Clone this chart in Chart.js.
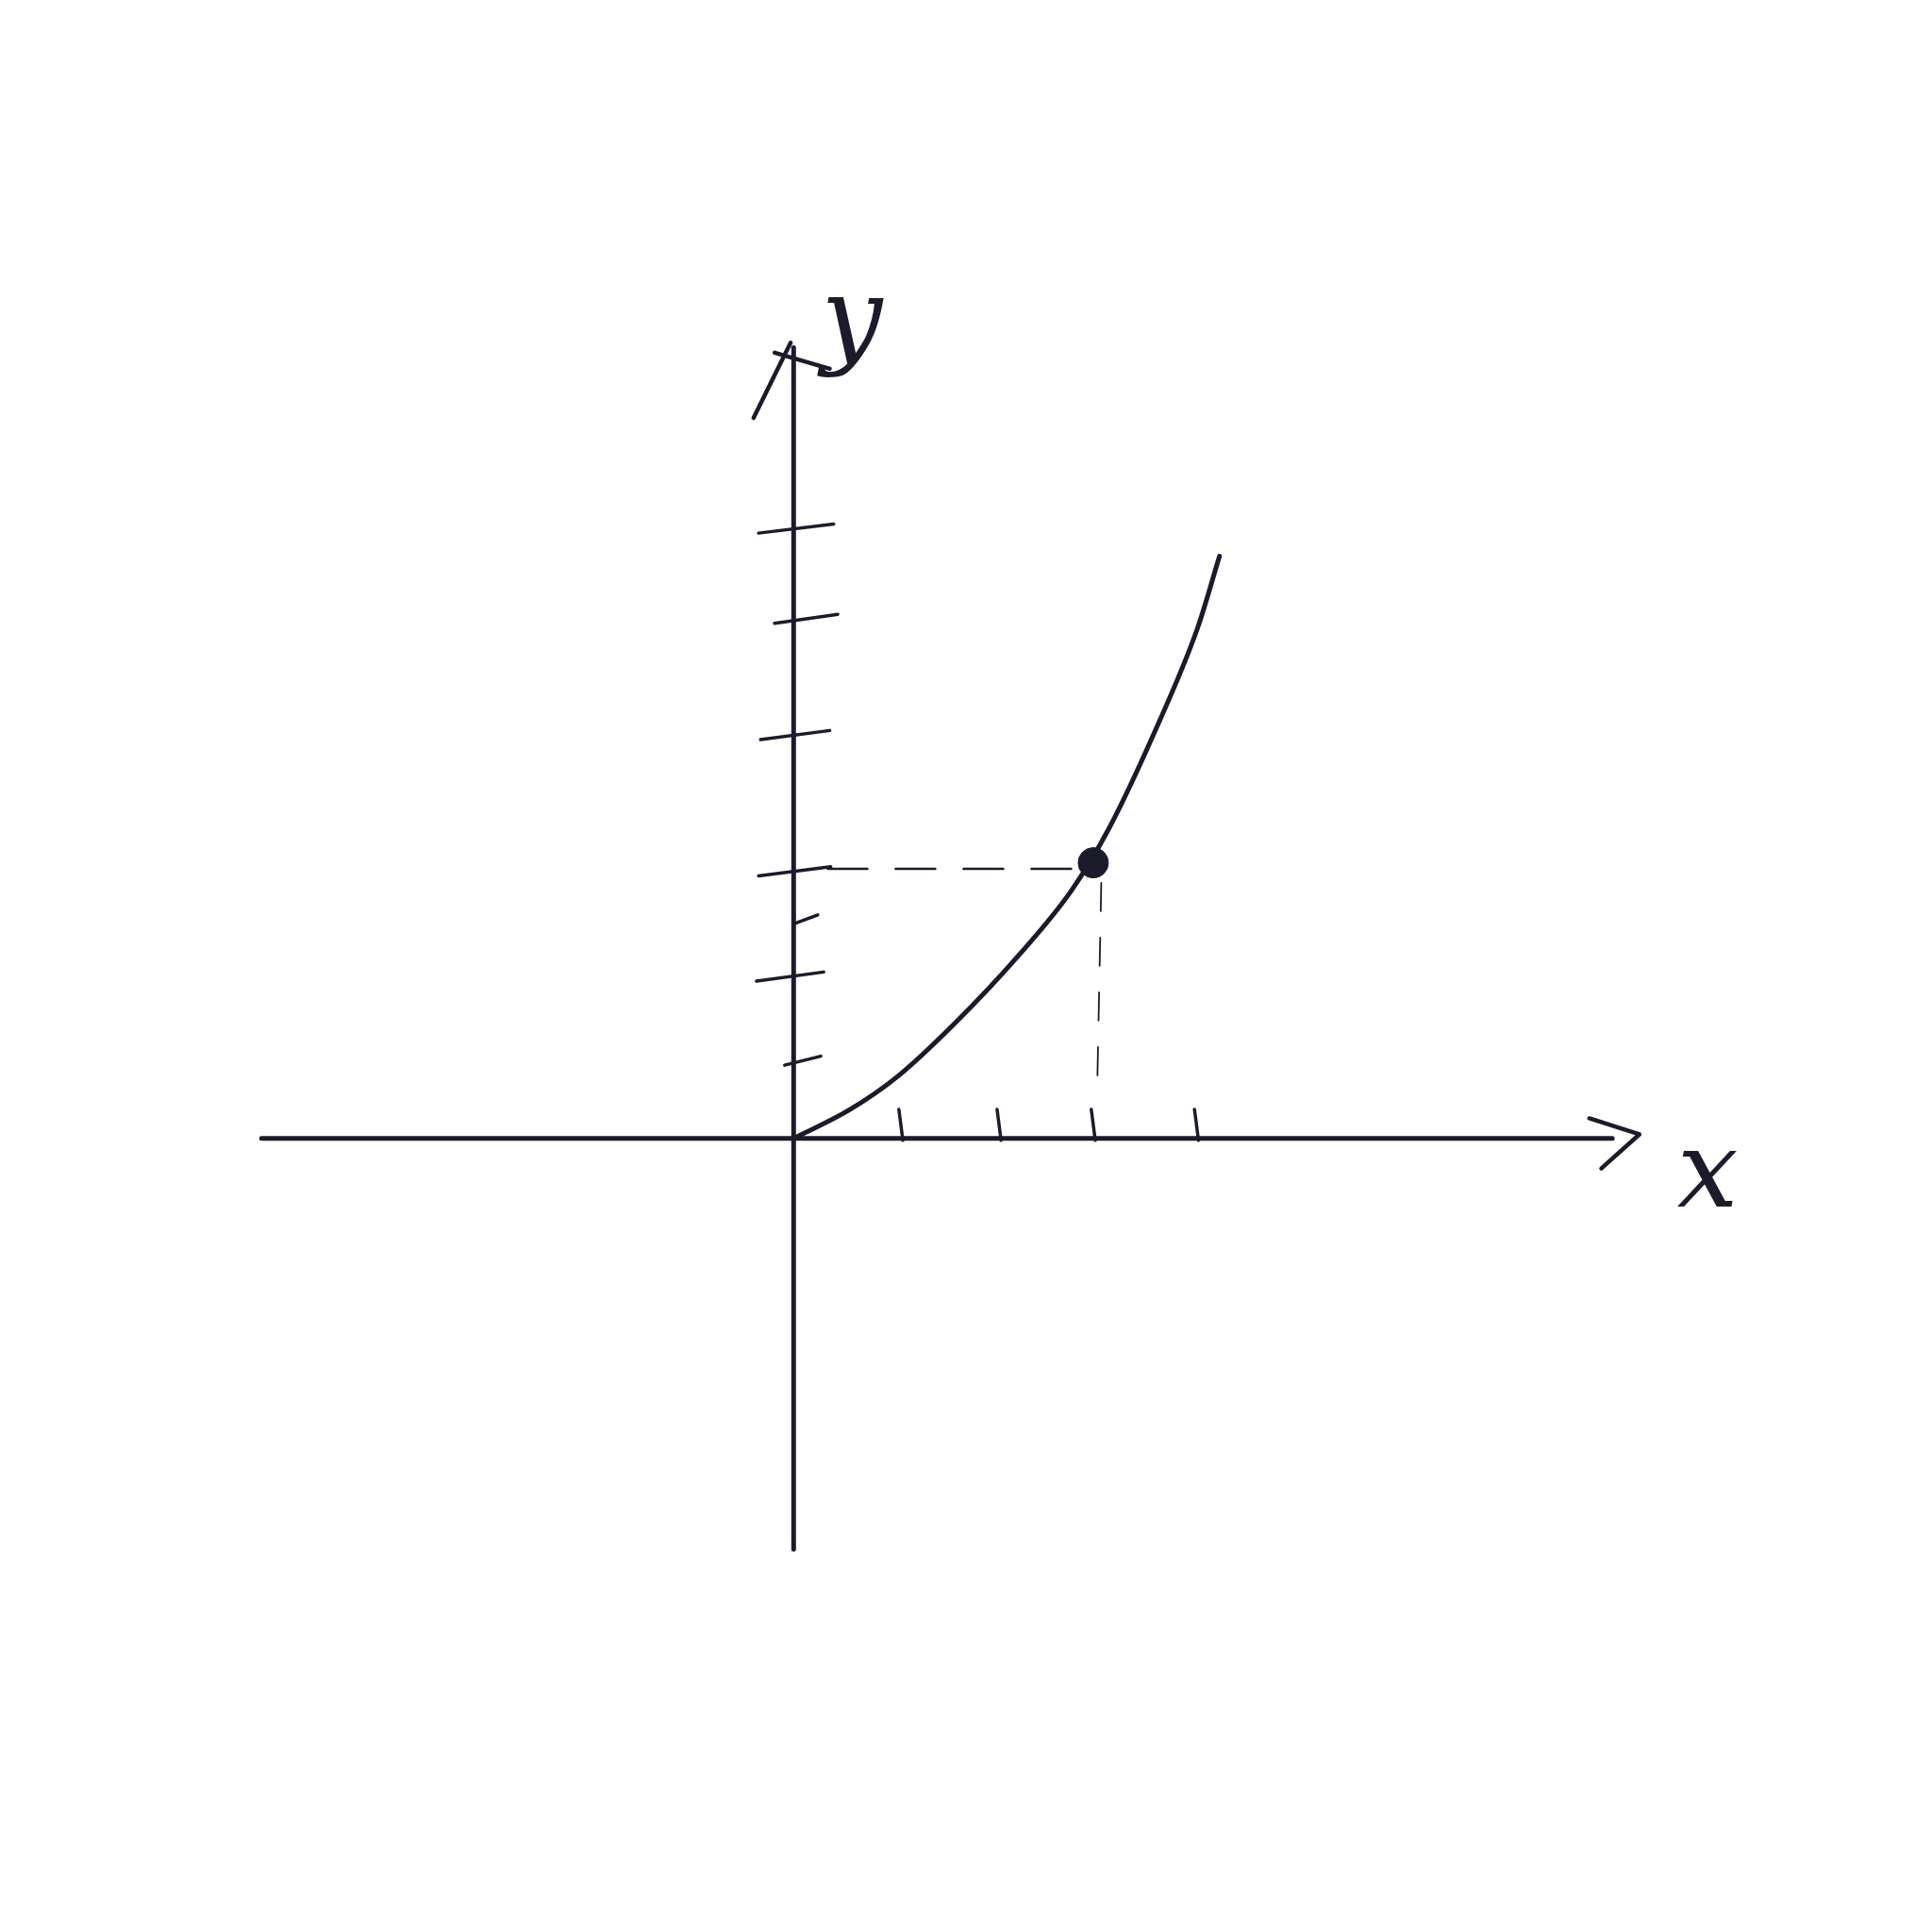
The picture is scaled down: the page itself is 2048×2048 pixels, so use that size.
<!DOCTYPE html>
<html lang="en">
  <head>
    <meta charset="UTF-8" />
    <title>Sketch: curve through a marked point</title>
    <script src="https://cdn.jsdelivr.net/npm/chart.js"></script>
    <style>
      html, body { margin: 0; padding: 0; background: #fff; }
    </style>
  </head>
  <body>
    <canvas id="sketch" width="2048" height="2048"></canvas>

    <script>
      // values, in "tick" units (origin = where axes cross)
      var curveX = [0, 0.55, 1.04, 1.62, 2.24, 2.77, 3.14, 3.6, 4.03, 4.25];
      var curveY = [0, 0.28, 0.62, 1.16, 1.82, 2.47, 3.08, 4.05, 5.09, 5.81];

      // the marked point
      var markX = [2.99];
      var markY = [2.75];

      // tick marks on the axes
      var xTicks = [1.08, 2.06, 3.0, 4.03];
      var yTicks = [6.08, 5.18, 4.02, 2.66, 2.18, 1.61, 0.77];
      // how far each y tick reaches left / right of the axis
      var yTickLeft = [0.35, 0.19, 0.33, 0.35, 0, 0.37, 0.09];
      var yTickRight = [0.4, 0.44, 0.36, 0.37, 0.24, 0.3, 0.27];

      // how long the drawn axes are
      var xAxisRange = [-5.31, 8.17];
      var yAxisRange = [-4.1, 7.89];

      var ink = "#1c1b2b";

      function pts(xs, ys) {
        return xs.map(function (x, i) {
          return { x: x, y: ys[i] };
        });
      }

      function stroke(data, width, dash) {
        return {
          data: data,
          showLine: true,
          borderColor: ink,
          borderWidth: width,
          borderDash: dash || [],
          borderCapStyle: "round",
          borderJoinStyle: "round",
          pointRadius: 0,
          fill: false,
        };
      }

      var datasets = [];

      // axes
      datasets.push(stroke([{ x: xAxisRange[0], y: 0 }, { x: xAxisRange[1], y: 0 }], 5));
      datasets.push(stroke([{ x: 0, y: yAxisRange[0] }, { x: 0, y: yAxisRange[1] }], 5));

      // arrow heads
      var xe = xAxisRange[1];
      datasets.push(stroke([{ x: xe - 0.23, y: 0.2 }, { x: xe + 0.27, y: 0.04 }, { x: xe - 0.11, y: -0.3 }], 4.5));
      var ye = yAxisRange[1];
      datasets.push(stroke([{ x: -0.4, y: ye - 0.7 }, { x: -0.03, y: ye + 0.05 }], 4.5));
      datasets.push(stroke([{ x: -0.19, y: ye - 0.05 }, { x: 0.36, y: ye - 0.21 }], 4.5));

      // ticks
      xTicks.forEach(function (t) {
        datasets.push(stroke([{ x: t - 0.03, y: 0.29 }, { x: t + 0.01, y: -0.02 }], 3.5));
      });
      yTicks.forEach(function (t, i) {
        datasets.push(stroke([{ x: -yTickLeft[i], y: t - 0.04 }, { x: yTickRight[i], y: t + 0.05 }], 3.5));
      });

      // dashed guides from the point to the axes
      datasets.push(stroke([{ x: 0.34, y: markY[0] - 0.06 }, { x: markX[0], y: markY[0] - 0.06 }], 2.5, [42, 30]));
      datasets.push(stroke([{ x: markX[0] + 0.08, y: markY[0] - 0.2 }, { x: markX[0] + 0.04, y: 0.53 }], 1.8, [30, 28]));

      // the curve
      var curve = stroke(pts(curveX, curveY), 5);
      curve.cubicInterpolationMode = "monotone";
      datasets.push(curve);

      // the marked point
      datasets.push({
        data: pts(markX, markY),
        pointRadius: 16,
        pointBackgroundColor: ink,
        pointBorderColor: ink,
        showLine: false,
      });

      var letters = {
        id: "axisLetters",
        afterDatasetsDraw: function (chart) {
          var ctx = chart.ctx;
          var sx = chart.scales.x;
          var sy = chart.scales.y;
          ctx.save();
          ctx.fillStyle = ink;
          ctx.font = 'italic 115px "DejaVu Serif"';
          ctx.textAlign = "center";
          ctx.textBaseline = "middle";
          ctx.fillText("x", sx.getPixelForValue(xe + 0.95), sy.getPixelForValue(-0.4));
          ctx.fillText("y", sx.getPixelForValue(0.58), sy.getPixelForValue(ye + 0.22));
          ctx.restore();
        },
      };

      new Chart(document.getElementById("sketch"), {
        type: "scatter",
        data: { datasets: datasets },
        options: {
          responsive: false,
          animation: false,
          layout: { padding: 0 },
          plugins: { legend: { display: false }, tooltip: { enabled: false } },
          scales: {
            x: { type: "linear", min: -7.76, max: 11.2, display: false },
            y: { type: "linear", min: -7.76, max: 11.2, display: false },
          },
        },
        plugins: [letters],
      });
    </script>
  </body>
</html>
